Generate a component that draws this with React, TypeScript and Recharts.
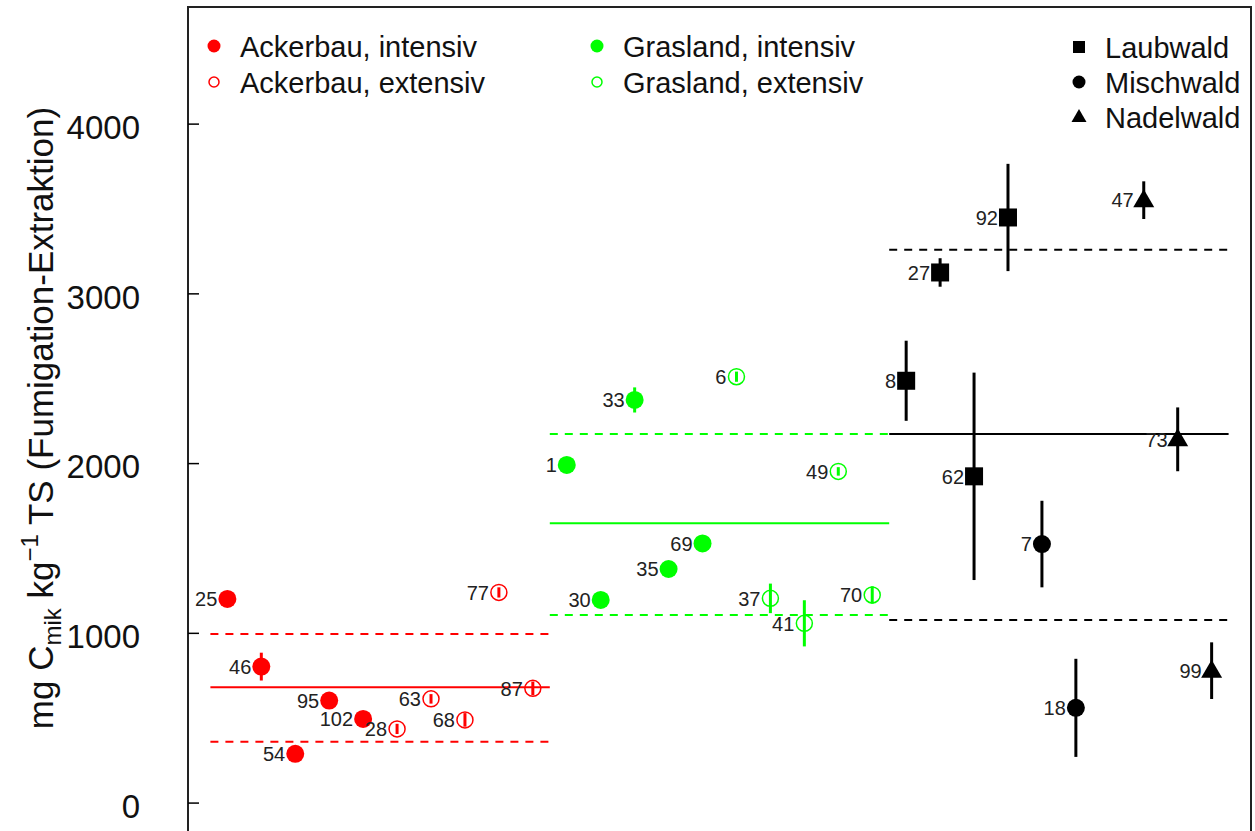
import React from 'react';
import {
  ComposedChart,
  Scatter,
  ErrorBar,
  XAxis,
  YAxis,
  ReferenceLine,
  ReferenceArea,
} from 'recharts';

const FONT = '"Liberation Sans", Arial, Helvetica, sans-serif';
const RED = '#ff0000';
const GREEN = '#00ff00';
const BLACK = '#000000';

// Ackerbau, intensiv
const ackerIntId = [25, 46, 54, 95, 102];
const ackerIntPos = [1, 2, 3, 4, 5];
const ackerIntVal = [1203, 804, 290, 604, 496];
const ackerIntErr = [30, 82, 30, 30, 30];

// Ackerbau, extensiv
const ackerExtId = [28, 63, 68, 77, 87];
const ackerExtPos = [6, 7, 8, 9, 10];
const ackerExtVal = [437, 614, 490, 1241, 676];
const ackerExtErr = [30, 28, 40, 30, 40];

// Grasland, intensiv
const grasIntId = [1, 30, 33, 35, 69];
const grasIntPos = [11, 12, 13, 14, 15];
const grasIntVal = [1992, 1197, 2375, 1379, 1530];
const grasIntErr = [30, 30, 74, 30, 30];

// Grasland, extensiv
const grasExtId = [6, 37, 41, 49, 70];
const grasExtPos = [16, 17, 18, 19, 20];
const grasExtVal = [2512, 1206, 1059, 1954, 1226];
const grasExtErr = [30, 87, 136, 25, 51];

// Wald
const laubId = [8, 27, 62, 92];
const laubPos = [21, 22, 23, 24];
const laubVal = [2488, 3126, 1925, 3450];
const laubErr = [236, 84, 611, 316];

const mischId = [7, 18];
const mischPos = [25, 26];
const mischVal = [1526, 561];
const mischErr = [255, 289];

const nadelId = [47, 73, 99];
const nadelPos = [28, 29, 30];
const nadelVal = [3552, 2143, 780];
const nadelErr = [111, 188, 167];

// Gruppenmittel und Grenzen (Ackerbau, Grasland, Wald)
const groupFrom = [0.5, 10.5, 20.5];
const groupTo = [10.5, 20.5, 30.5];
const groupMean = [682, 1648, 2174];
const groupLower = [362, 1108, 1079];
const groupUpper = [996, 2174, 3260];
const groupColor = [RED, GREEN, BLACK];

const yTicks = [0, 1000, 2000, 3000, 4000];

const legendLabels = [
  'Ackerbau, intensiv',
  'Ackerbau, extensiv',
  'Grasland, intensiv',
  'Grasland, extensiv',
  'Laubwald',
  'Mischwald',
  'Nadelwald',
];

const toRows = (ids: number[], pos: number[], val: number[], err: number[]) =>
  ids.map((id, i) => ({ id, x: pos[i], y: val[i], err: err[i] }));

type Kind = 'filled' | 'open' | 'square' | 'triangle';

const makeShape = (kind: Kind, color: string) => (props: any) => {
  const { cx, cy, payload } = props;
  let mark: React.ReactNode;
  if (kind === 'filled') mark = <circle cx={cx} cy={cy} r={9} fill={color} />;
  else if (kind === 'open')
    mark = <circle cx={cx} cy={cy} r={8} fill="none" stroke={color} strokeWidth={1.5} />;
  else if (kind === 'square')
    mark = <rect x={cx - 9} y={cy - 9} width={18} height={18} fill={color} />;
  else
    mark = (
      <polygon
        points={`${cx},${cy - 11} ${cx - 10.5},${cy + 7} ${cx + 10.5},${cy + 7}`}
        fill={color}
      />
    );
  return (
    <g>
      {mark}
      <text
        x={cx - 10}
        y={cy}
        dy="0.36em"
        textAnchor="end"
        fontSize={20}
        fontFamily={FONT}
        fill="#222"
      >
        {payload.id}
      </text>
    </g>
  );
};

const YTick = (props: any) => {
  const { x, y, payload } = props;
  return (
    <g>
      <line x1={x + 48} x2={x + 59} y1={y} y2={y} stroke="#000" strokeWidth={1.5} />
      <text
        x={x}
        y={y}
        dy="0.45em"
        textAnchor="end"
        fontSize={33}
        fontFamily={FONT}
        fill="#111"
      >
        {payload.value}
      </text>
    </g>
  );
};

const YTitle = () => (
  <text
    transform="translate(53, 418) rotate(-90)"
    textAnchor="middle"
    fontSize={35}
    fontFamily={FONT}
    fill="#111"
  >
    mg C
    <tspan fontSize={24} dy={8}>mik</tspan>
    <tspan dy={-8}> kg</tspan>
    <tspan fontSize={24} dy={-15}>−1</tspan>
    <tspan dy={15}> TS (Fumigation-Extraktion)</tspan>
  </text>
);

const Legend = () => {
  const items = [
    { x: 214, y: 46, kind: 'filled', color: RED },
    { x: 214, y: 82, kind: 'open', color: RED },
    { x: 597, y: 46, kind: 'filled', color: GREEN },
    { x: 597, y: 82, kind: 'open', color: GREEN },
    { x: 1079, y: 47, kind: 'square', color: BLACK },
    { x: 1079, y: 82, kind: 'filled', color: BLACK },
    { x: 1079, y: 117, kind: 'triangle', color: BLACK },
  ];
  return (
    <svg
      width={1255}
      height={150}
      style={{ position: 'absolute', left: 0, top: 0, pointerEvents: 'none' }}
    >
      {items.map((it, i) => {
        let mark: React.ReactNode;
        if (it.kind === 'filled') mark = <circle cx={it.x} cy={it.y} r={6.5} fill={it.color} />;
        else if (it.kind === 'open')
          mark = <circle cx={it.x} cy={it.y} r={5} fill="none" stroke={it.color} strokeWidth={1.5} />;
        else if (it.kind === 'square')
          mark = <rect x={it.x - 6} y={it.y - 6} width={12} height={12} fill={it.color} />;
        else
          mark = (
            <polygon
              points={`${it.x},${it.y - 8} ${it.x - 7.5},${it.y + 5} ${it.x + 7.5},${it.y + 5}`}
              fill={it.color}
            />
          );
        return (
          <g key={i}>
            {mark}
            <text
              x={it.x + 26}
              y={it.y + 11}
              fontSize={29}
              fontFamily={FONT}
              fill="#111"
            >
              {legendLabels[i]}
            </text>
          </g>
        );
      })}
    </svg>
  );
};

const series = [
  { rows: toRows(ackerIntId, ackerIntPos, ackerIntVal, ackerIntErr), kind: 'filled' as Kind, color: RED },
  { rows: toRows(ackerExtId, ackerExtPos, ackerExtVal, ackerExtErr), kind: 'open' as Kind, color: RED },
  { rows: toRows(grasIntId, grasIntPos, grasIntVal, grasIntErr), kind: 'filled' as Kind, color: GREEN },
  { rows: toRows(grasExtId, grasExtPos, grasExtVal, grasExtErr), kind: 'open' as Kind, color: GREEN },
  { rows: toRows(laubId, laubPos, laubVal, laubErr), kind: 'square' as Kind, color: BLACK },
  { rows: toRows(mischId, mischPos, mischVal, mischErr), kind: 'filled' as Kind, color: BLACK },
  { rows: toRows(nadelId, nadelPos, nadelVal, nadelErr), kind: 'triangle' as Kind, color: BLACK },
];

export default function App() {
  return (
    <div
      style={{
        position: 'fixed',
        left: 0,
        top: 0,
        width: 1255,
        height: 831,
        overflow: 'hidden',
        background: '#fff',
      }}
    >
      <div style={{ position: 'relative', width: 1255, height: 870 }}>
        <ComposedChart
          width={1255}
          height={870}
          margin={{ top: 7, right: 4, bottom: 16, left: 0 }}
        >
          <XAxis
            type="number"
            dataKey="x"
            domain={[-0.16, 31.16]}
            allowDataOverflow
            hide
          />
          <YAxis
            type="number"
            domain={[-300, 4690]}
            allowDataOverflow
            ticks={yTicks}
            width={188}
            axisLine={false}
            tickLine={false}
            tickSize={0}
            tickMargin={48}
            tick={<YTick />}
            label={<YTitle />}
          />
          <ReferenceArea
            x1={-0.16}
            x2={31.16}
            y1={-300}
            y2={4690}
            fill="none"
            stroke="#222"
            strokeWidth={2}
            ifOverflow="visible"
          />
          {groupMean.map((m, i) => (
            <ReferenceLine
              key={`m${i}`}
              segment={[
                { x: groupFrom[i], y: m },
                { x: groupTo[i], y: m },
              ]}
              stroke={groupColor[i]}
              strokeWidth={2}
            />
          ))}
          {groupLower.map((v, i) => (
            <ReferenceLine
              key={`l${i}`}
              segment={[
                { x: groupFrom[i], y: v },
                { x: groupTo[i], y: v },
              ]}
              stroke={groupColor[i]}
              strokeWidth={2}
              strokeDasharray="8 7"
            />
          ))}
          {groupUpper.map((v, i) => (
            <ReferenceLine
              key={`u${i}`}
              segment={[
                { x: groupFrom[i], y: v },
                { x: groupTo[i], y: v },
              ]}
              stroke={groupColor[i]}
              strokeWidth={2}
              strokeDasharray="8 7"
            />
          ))}
          {series.map((s, i) => (
            <Scatter
              key={i}
              data={s.rows}
              dataKey="y"
              shape={makeShape(s.kind, s.color)}
              isAnimationActive={false}
            >
              <ErrorBar
                dataKey="err"
                direction="y"
                width={0}
                strokeWidth={3}
                stroke={s.color}
              />
            </Scatter>
          ))}
        </ComposedChart>
        <Legend />
      </div>
    </div>
  );
}
